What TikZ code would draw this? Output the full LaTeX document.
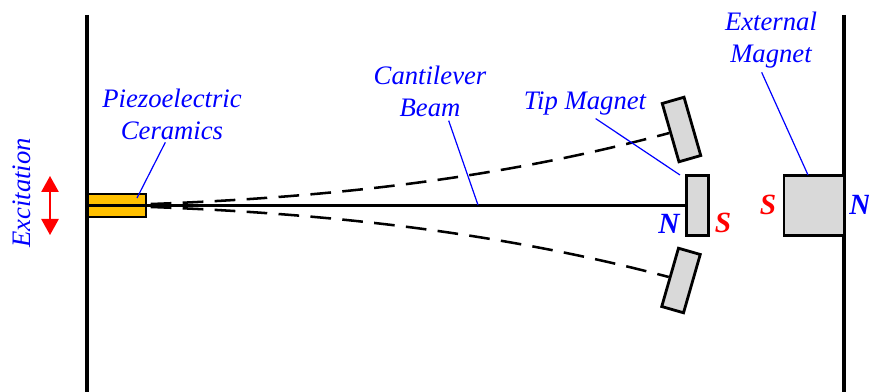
\documentclass[tikz,border=0pt]{standalone}
\usepackage{fontspec}
\setmainfont{Liberation Serif}
\usetikzlibrary{arrows.meta}
\definecolor{piezocol}{HTML}{FFC000}
\definecolor{magnetcol}{HTML}{D9D9D9}
\begin{document}
\begin{tikzpicture}[
  x=0.75pt,y=-0.75pt,
  wall/.style={line width=2.6pt,black},
  beamline/.style={line width=1.9pt,black},
  bent/.style={line width=1.9pt,black,dash pattern=on 15.5pt off 8.5pt,dash phase=21pt},
  magnet/.style={draw=black,line width=2.1pt,fill=magnetcol,inner sep=0pt},
  piezo/.style={draw=black,line width=1.6pt,fill=piezocol,inner sep=0pt,minimum width=43pt,minimum height=17pt},
  lbl/.style={font=\fontsize{20}{24}\selectfont\itshape,text=blue,align=center,inner sep=0pt},
  pole/.style={font=\fontsize{22}{24}\selectfont\bfseries\itshape,inner sep=0pt},
  leader/.style={blue,line width=0.9pt},
]
  \useasboundingbox (0,0) rectangle (869,392);

  % walls
  \coordinate (WLtop) at (87,15);
  \coordinate (WLbot) at (87,392);
  \coordinate (WRtop) at (844,15);
  \coordinate (WRbot) at (844,392);
  \draw[wall] (WLtop) -- (WLbot);
  \draw[wall] (WRtop) -- (WRbot);

  % magnets
  \node[magnet,minimum width=17pt,minimum height=45.5pt] (Tip) at (697.5,205.5) {};
  \node[magnet,minimum width=17pt,minimum height=45.5pt,rotate=16] (TipUp) at (681.5,129.5) {};
  \node[magnet,minimum width=17pt,minimum height=45.5pt,rotate=-16] (TipDn) at (681,280.5) {};
  \node[magnet,minimum width=45pt,minimum height=45.5pt] (Ext) at (814,205.5) {};

  % piezo and beam
  \node[piezo] (Pz) at (117,205.5) {};
  \draw[beamline] (Pz.west) -- (Tip.west);

  % bent positions of the beam
  \draw[bent] ([yshift=1pt]Pz.east) .. controls (321,198) and (495,180) .. (TipUp.west);
  \draw[bent] ([yshift=-1pt]Pz.east) .. controls (321,213) and (495,231) .. (TipDn.west);

  % excitation
  \coordinate (ExTop) at (50,176);
  \coordinate (ExBot) at (50,235);
  \draw[{Triangle[width=13pt,length=12pt]}-{Triangle[width=13pt,length=12pt]},red,line width=1.2pt] (ExTop) -- (ExBot);
  \node[lbl,rotate=90] (Exc) at (22,193) {Excitation};

  % labels
  \node[lbl] (PzLbl) at (172,114) {Piezoelectric\\Ceramics};
  \node[lbl] (BeamLbl) at (430,91) {Cantilever\\Beam};
  \node[lbl] (TipLbl) at (585,104) {Tip Magnet};
  \node[lbl] (ExtLbl) at (771,40) {External\\Magnet};

  % leaders
  \coordinate (PzEnd) at (137,198);
  \coordinate (BeamEnd) at (478,205);
  \coordinate (TipEnd) at (680,175);
  \coordinate (ExtEnd) at (808,175);
  \draw[leader] ([xshift=-5pt,yshift=-2pt]PzLbl.south) -- (PzEnd);
  \draw[leader] ([xshift=14pt,yshift=-3pt]BeamLbl.south) -- (BeamEnd);
  \draw[leader] ([xshift=8pt,yshift=-2pt]TipLbl.south) -- (TipEnd);
  \draw[leader] ([xshift=-7pt,yshift=-3pt]ExtLbl.south) -- (ExtEnd);

  % poles
  \node[pole,text=blue] (TipN) at (669,224) {N};
  \node[pole,text=red] (TipS) at (723,223) {S};
  \node[pole,text=red] (ExtS) at (768,205) {S};
  \node[pole,text=blue] (ExtN) at (860,205) {N};
\end{tikzpicture}
\end{document}
